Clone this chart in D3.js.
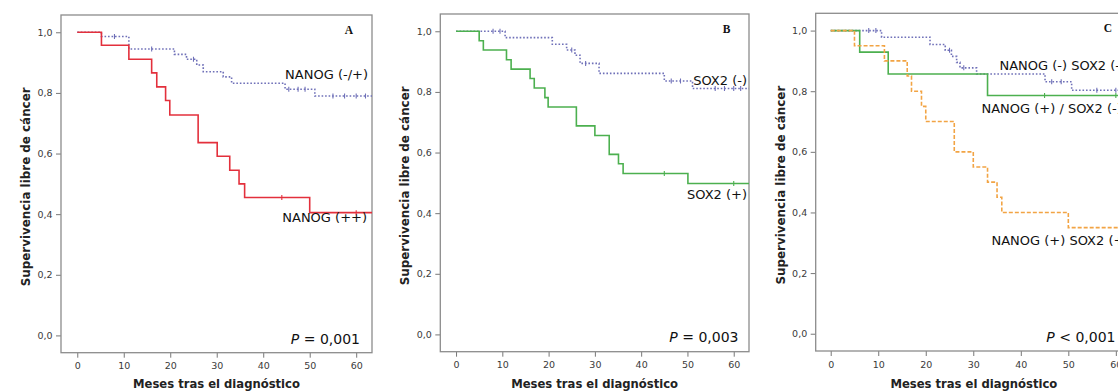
<!DOCTYPE html>
<html><head><meta charset="utf-8">
<script src="https://cdn.jsdelivr.net/npm/d3@7"></script>
<style>
html,body{margin:0;padding:0;background:#fff;}
svg{display:block;}
</style></head>
<body>
<svg id="chart" width="1118" height="391"></svg>
<script>
// ---------------- DATA ----------------
const xTicks = [0, 10, 20, 30, 40, 50, 60];
const yTicks = [0, 0.2, 0.4, 0.6, 0.8, 1.0];
const xTickLabels = ["0", "10", "20", "30", "40", "50", "60"];
const yTickLabels = ["0,0", "0,2", "0,4", "0,6", "0,8", "1,0"];
const xTitle = "Meses tras el diagnóstico";
const yTitle = "Supervivencia libre de cáncer";
const panelLetters = ["A", "B", "C"];
const pValues = ["= 0,001", "= 0,003", "< 0,001"];

// Panel A
const aNegTimes = [0, 5.2, 11.1, 20.9, 23.5, 25.7, 27.1, 31.4, 33.2, 44.7, 51.1];
const aNegSurv  = [1, 0.986, 0.945, 0.927, 0.911, 0.892, 0.870, 0.853, 0.832, 0.812, 0.790];
const aNegCens  = [8, 16, 25, 45.5, 47.5, 49, 55, 57.5, 60, 62];
const aPosTimes = [0, 5.2, 11.1, 16.0, 17.1, 19.0, 19.9, 26.0, 30.1, 32.8, 34.8, 36.0, 50.0];
const aPosSurv  = [1, 0.957, 0.911, 0.866, 0.820, 0.775, 0.727, 0.636, 0.591, 0.545, 0.500, 0.455, 0.405];
const aPosCens  = [44, 60];

// Panel B
const bNegTimes = [0, 10.6, 20.8, 23.9, 25.7, 26.8, 30.9, 45.0, 51.1];
const bNegSurv  = [1, 0.979, 0.957, 0.938, 0.921, 0.894, 0.861, 0.836, 0.811];
const bNegCens  = [8, 9.5, 25, 28, 46.5, 48.5, 56, 58, 60, 61.5];
const bPosTimes = [0, 5.0, 5.9, 10.9, 11.9, 16.0, 16.9, 19.2, 19.9, 26.0, 30.0, 33.1, 35.1, 36.1, 50.1];
const bPosSurv  = [1, 0.969, 0.938, 0.906, 0.875, 0.844, 0.813, 0.781, 0.750, 0.688, 0.656, 0.594, 0.563, 0.531, 0.498];
const bPosCens  = [45, 60];

// Panel C
const cNegNegTimes = [0, 10.7, 20.9, 24.1, 25.4, 26.5, 27.2, 30.7, 45.1, 50.7];
const cNegNegSurv  = [1, 0.978, 0.954, 0.935, 0.915, 0.895, 0.877, 0.857, 0.831, 0.803];
const cNegNegCens  = [8, 9.5, 25, 28, 46.5, 48.5, 56, 60];
const cPosNegTimes = [0, 6.1, 12.1, 33.0];
const cPosNegSurv  = [1, 0.929, 0.857, 0.786];
const cPosNegCens  = [45, 60];
const cPosPosTimes = [0, 5.0, 11.3, 16.1, 17.0, 19.1, 20.0, 26.0, 30.0, 33.0, 35.0, 36.0, 50.0];
const cPosPosSurv  = [1, 0.95, 0.90, 0.85, 0.80, 0.75, 0.70, 0.60, 0.55, 0.50, 0.45, 0.40, 0.35];
const cPosPosCens  = [];

const followUpEnd = 64;

// ---------------- STYLES ----------------
const STY = {
  blue:   {color: "#6f70b8", dash: "1.6,1.9", width: 1.6},
  red:    {color: "#e3303c", dash: null, width: 1.6},
  green:  {color: "#4cb04f", dash: null, width: 1.6},
  orange: {color: "#f2a444", dash: "4,2", width: 1.6}
};

const panels = [
  { frame: {l: 61, r: 372, t: 15, b: 352.7}, xDom: [-3.5, 63.4],
    series: [
      {t: aNegTimes, s: aNegSurv, c: aNegCens, st: STY.blue},
      {t: aPosTimes, s: aPosSurv, c: aPosCens, st: STY.red}
    ],
    labels: [
      {text: "NANOG (-/+)", x: 368, y: 79, anchor: "end"},
      {text: "NANOG (++)", x: 367, y: 221.5, anchor: "end"}
    ],
    p: {x: 360, y: 343.5}, letter: {x: 349, y: 34}
  },
  { frame: {l: 440.3, r: 749, t: 14, b: 351.7}, xDom: [-3.4, 63.3],
    series: [
      {t: bNegTimes, s: bNegSurv, c: bNegCens, st: STY.blue},
      {t: bPosTimes, s: bPosSurv, c: bPosCens, st: STY.green}
    ],
    labels: [
      {text: "SOX2 (-)", x: 747, y: 85, anchor: "end"},
      {text: "SOX2 (+)", x: 747, y: 199, anchor: "end"}
    ],
    p: {x: 738.5, y: 342}, letter: {x: 726.5, y: 33}
  },
  { frame: {l: 815.7, r: 1132, t: 13.3, b: 351}, xDom: [-3.16, 63.4],
    series: [
      {t: cNegNegTimes, s: cNegNegSurv, c: cNegNegCens, st: STY.blue},
      {t: cPosNegTimes, s: cPosNegSurv, c: cPosNegCens, st: STY.green},
      {t: cPosPosTimes, s: cPosPosSurv, c: cPosPosCens, st: STY.orange}
    ],
    labels: [
      {text: "NANOG (-) SOX2 (-)", x: 999.5, y: 70, anchor: "start"},
      {text: "NANOG (+) / SOX2 (-)", x: 981.5, y: 113, anchor: "start"},
      {text: "NANOG (+) SOX2 (+)", x: 991.5, y: 245, anchor: "start"}
    ],
    p: {x: 1115.5, y: 341.5}, letter: {x: 1108, y: 32}
  }
];

const svg = d3.select("#chart");
svg.append("rect").attr("width", 1118).attr("height", 391).attr("fill", "#fff");

const FONT = "'DejaVu Sans', Verdana, sans-serif";

panels.forEach((P, i) => {
  const f = P.frame;
  const x = d3.scaleLinear().domain(P.xDom).range([f.l, f.r]);
  const y = d3.scaleLinear().domain([-0.057, 1.057]).range([f.b, f.t]);
  const g = svg.append("g");

  const clipId = "clip" + i;
  g.append("clipPath").attr("id", clipId).append("rect")
    .attr("x", f.l).attr("y", f.t).attr("width", f.r - f.l).attr("height", f.b - f.t);

  // axes
  const xAxis = d3.axisBottom(x).tickValues(xTicks).tickSize(5)
    .tickFormat((d, k) => xTickLabels[k]);
  const gx = g.append("g").attr("transform", `translate(0,${f.b})`).call(xAxis);
  const yAxis = d3.axisLeft(y).tickValues(yTicks).tickSize(5)
    .tickFormat((d, k) => yTickLabels[k]);
  const gy = g.append("g").attr("transform", `translate(${f.l},0)`).call(yAxis);
  [gx, gy].forEach(a => {
    a.select(".domain").remove();
    a.selectAll(".tick line").attr("stroke", "#777").attr("stroke-width", 1);
    a.selectAll(".tick text").attr("fill", "#3a3a3a")
      .style("font-family", FONT).style("font-size", "9.5px");
  });
  gx.selectAll(".tick text").attr("y", 10);
  gy.selectAll(".tick text").attr("x", -8.5);

  // frame
  g.append("rect").attr("x", f.l).attr("y", f.t)
    .attr("width", f.r - f.l).attr("height", f.b - f.t)
    .attr("fill", "none").attr("stroke", "#8c8c8c").attr("stroke-width", 1.3);

  // titles
  g.append("text").attr("x", (f.l + f.r) / 2)
    .attr("y", 387.5).attr("text-anchor", "middle")
    .style("font-family", FONT).style("font-weight", "bold").style("font-size", "11.6px")
    .attr("fill", "#222").text(xTitle);
  g.append("text")
    .attr("transform", `translate(${f.l - 31},${(f.t + f.b) / 2 + 3}) rotate(-90)`)
    .attr("text-anchor", "middle")
    .style("font-family", FONT).style("font-weight", "bold").style("font-size", "11.9px")
    .attr("fill", "#222").text(yTitle);

  // curves
  const line = d3.line().x(d => x(d[0])).y(d => y(d[1])).curve(d3.curveStepAfter);
  const cg = g.append("g").attr("clip-path", `url(#${clipId})`);
  P.series.forEach(S => {
    const pts = S.t.map((t, k) => [t, S.s[k]]);
    pts.push([followUpEnd, S.s[S.s.length - 1]]);
    cg.append("path").attr("d", line(pts)).attr("fill", "none")
      .attr("stroke", S.st.color).attr("stroke-width", S.st.width)
      .attr("stroke-dasharray", S.st.dash);
    // censor marks
    S.c.forEach(ct => {
      let k = 0;
      for (let j = 0; j < S.t.length; j++) if (S.t[j] <= ct) k = j;
      cg.append("line").attr("x1", x(ct)).attr("x2", x(ct))
        .attr("y1", y(S.s[k]) - 2.5).attr("y2", y(S.s[k]) + 2.5)
        .attr("stroke", S.st.color).attr("stroke-width", 1.1);
    });
  });

  // labels
  P.labels.forEach(L => {
    g.append("text").attr("x", L.x).attr("y", L.y).attr("text-anchor", L.anchor)
      .style("font-family", FONT).style("font-size", "13px").attr("fill", "#111")
      .text(L.text);
  });
  const pt = g.append("text").attr("x", P.p.x).attr("y", P.p.y).attr("text-anchor", "end")
    .style("font-family", FONT).style("font-size", "14px").attr("fill", "#111");
  pt.append("tspan").style("font-style", "italic").text("P");
  pt.append("tspan").text(" " + pValues[i]);
  g.append("text").attr("x", P.letter.x).attr("y", P.letter.y).attr("text-anchor", "middle")
    .style("font-family", "'Liberation Serif', 'Times New Roman', serif")
    .style("font-weight", "bold").style("font-size", "11.5px").attr("fill", "#111")
    .text(panelLetters[i]);
});
</script>
</body></html>
